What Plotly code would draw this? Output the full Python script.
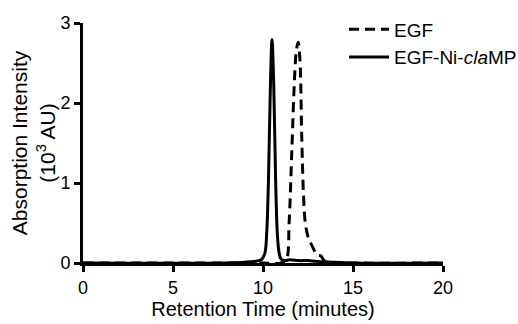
import plotly.graph_objects as go

# Retention time (minutes) and absorption intensity (10^3 AU)
egf_time = [0, 10.0, 11.0, 11.3, 11.45, 11.6, 11.75, 11.85, 11.95, 12.05, 12.15, 12.25,
            12.35, 12.5, 12.65, 12.8, 13.0, 13.2, 13.4, 13.6, 15.0, 20.0]
egf_abs = [0, 0, 0.0, 0.05, 0.5, 1.4, 2.3, 2.65, 2.76, 2.55, 1.6, 0.85,
           0.5, 0.33, 0.25, 0.18, 0.1, 0.09, 0.03, 0.01, 0, 0]

clamp_time = [0, 8.0, 9.0, 9.5, 9.9, 10.1, 10.2, 10.3, 10.4, 10.5, 10.6, 10.7, 10.8,
              10.9, 11.0, 11.2, 11.5, 12.0, 12.5, 13.0, 14.0, 15.0, 20.0]
clamp_abs = [0, 0, 0.01, 0.02, 0.04, 0.12, 0.35, 1.0, 2.1, 2.79, 2.2, 1.05, 0.35,
             0.12, 0.05, 0.03, 0.04, 0.03, 0.03, 0.02, 0.01, 0, 0]

x_ticks = [0, 5, 10, 15, 20]
y_ticks = [0, 1, 2, 3]

FONT = "Arial, Liberation Sans, sans-serif"
FS = 20

fig = go.Figure()
fig.add_trace(go.Scatter(x=egf_time, y=egf_abs, mode="lines", name="EGF",
                         legendgroup="a",
                         line=dict(color="black", width=3, dash="10px,6px", shape="spline")))
fig.add_trace(go.Scatter(x=clamp_time, y=clamp_abs, mode="lines", name="EGF-Ni-<i>cla</i>MP",
                         legendgroup="b",
                         line=dict(color="black", width=3, shape="spline")))

axis_common = dict(showline=True, linewidth=3, linecolor="black", ticks="outside",
                   ticklen=6, tickwidth=3, tickcolor="black", showgrid=False,
                   zeroline=False, tickfont=dict(size=18, color="black", family=FONT))

fig.update_layout(
    width=518, height=324,
    margin=dict(l=83, r=75, t=23, b=61, autoexpand=False),
    paper_bgcolor="white", plot_bgcolor="white",
    font=dict(family=FONT, color="black", size=FS),
    showlegend=True,
    xaxis=dict(range=[0, 20], tickvals=x_ticks,
               title=dict(text="Retention Time (minutes)", font=dict(size=FS), standoff=4),
               **axis_common),
    yaxis=dict(range=[0, 3], tickvals=y_ticks,
               title=dict(text="Absorption Intensity<br>(10<sup>3</sup> AU)", font=dict(size=21), standoff=0),
               **axis_common),
    legend=dict(x=0.725, y=1.052, xanchor="left", yanchor="top", bgcolor="rgba(0,0,0,0)",
                font=dict(size=19), tracegroupgap=0, itemwidth=40),
)

fig.write_html("out.html")
